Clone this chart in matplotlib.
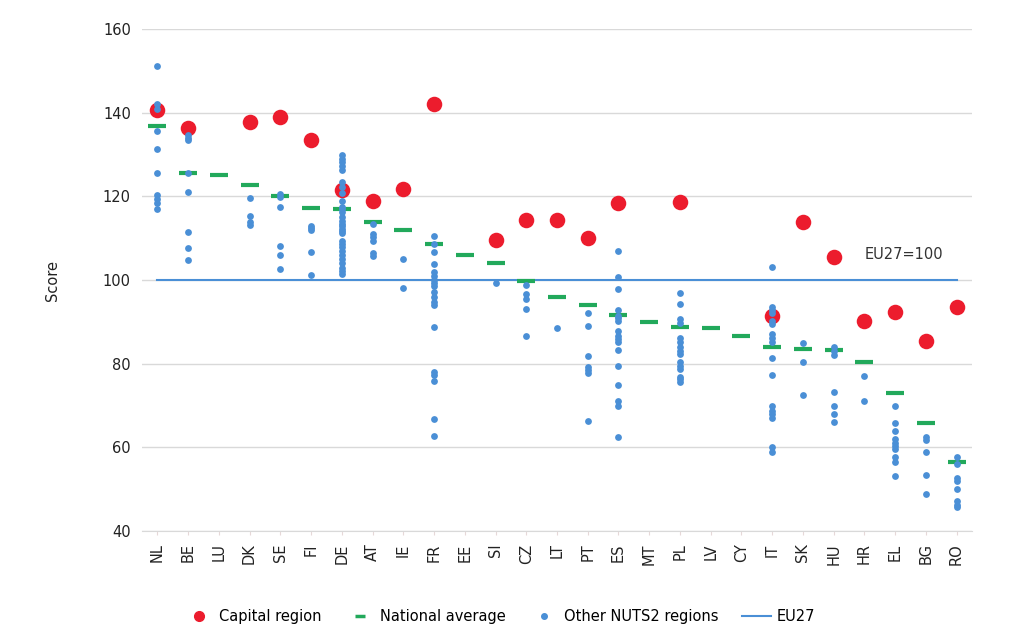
import numpy as np
import matplotlib
matplotlib.use("Agg")
import matplotlib.pyplot as plt
from matplotlib.lines import Line2D

# country codes, in chart order
countries = ["NL", "BE", "LU", "DK", "SE", "FI", "DE", "AT", "IE", "FR", "EE", "SI", "CZ", "LT",
             "PT", "ES", "MT", "PL", "LV", "CY", "IT", "SK", "HU", "HR", "EL", "BG", "RO"]

# capital region score (nan = single-region country)
capital = [140.6, 136.3, np.nan, 137.7, 138.9, 133.4, 121.5, 118.9, 121.7, 142.0, np.nan, 109.5,
           114.3, 114.3, 110.0, 118.5, np.nan, 118.7, np.nan, np.nan, 91.5, 113.8, 105.4, 90.1,
           92.4, 85.4, 93.6]

# national average
national = [136.8, 125.6, 125.1, 122.8, 120.1, 117.3, 117.1, 113.9, 111.9, 108.7, 106.0, 104.2,
            99.7, 96.0, 94.0, 91.7, 89.9, 88.7, 88.5, 86.6, 84.0, 83.5, 83.3, 80.5, 73.0, 65.9,
            56.4]

# other NUTS2 regions, one list per country
others = [
    [151.1, 142.2, 140.8, 135.6, 131.4, 125.5, 120.4, 119.5, 118.5, 116.9],
    [134.6, 134.0, 133.6, 125.7, 121.1, 111.5, 107.6, 104.8],
    [],
    [119.7, 115.4, 113.8, 113.1],
    [120.5, 119.9, 117.5, 108.2, 106.0, 102.7],
    [113.0, 112.4, 111.9, 106.8, 101.3],
    [129.8, 129.0, 128.2, 127.3, 126.3, 123.5, 122.3, 120.9, 118.9, 117.5, 116.9, 116.2, 115.2,
     114.2, 113.5, 113.0, 112.3, 111.8, 111.2, 109.4, 108.6, 107.8, 107.0, 106.0, 105.0, 104.0,
     103.0, 102.2, 101.4],
    [113.5, 111.0, 110.2, 109.4, 106.4, 105.8],
    [105.0, 98.1],
    [110.6, 108.6, 106.6, 103.8, 102.0, 101.0, 100.1, 99.3, 98.5, 97.1, 96.0, 94.7, 94.1, 88.7,
     78.0, 77.2, 75.8, 66.8, 62.8],
    [],
    [99.3],
    [98.8, 96.7, 95.5, 93.1, 86.6],
    [88.5],
    [92.1, 89.0, 81.9, 79.2, 78.6, 77.8, 66.2],
    [107.0, 100.8, 97.9, 92.8, 91.5, 90.9, 90.1, 87.9, 86.7, 85.9, 85.1, 83.2, 79.5, 74.9, 71.2,
     70.0, 62.4],
    [],
    [96.8, 94.3, 90.6, 89.7, 86.1, 85.1, 84.1, 83.1, 82.3, 80.4, 79.5, 78.8, 76.9, 76.4, 75.6],
    [],
    [],
    [103.2, 93.6, 92.8, 92.1, 90.3, 89.5, 87.1, 86.2, 85.1, 81.3, 77.2, 70.0, 68.8, 68.0, 67.1,
     60.1, 58.9],
    [84.9, 80.4, 72.4],
    [83.9, 83.0, 82.2, 73.3, 69.8, 67.9, 66.0],
    [77.0, 71.0],
    [69.8, 65.9, 63.8, 62.1, 61.1, 60.3, 59.5, 57.7, 56.5, 53.2],
    [62.4, 61.8, 58.9, 53.3, 48.9],
    [57.8, 55.9, 52.7, 52.0, 50.1, 47.1, 46.3, 45.8],
]

eu27 = 100

RED = "#EC1C2D"
GREEN = "#22A95B"
BLUE = "#4A8FD6"

plt.rcParams['font.family'] = ['DejaVu Sans']
plt.rcParams['font.size'] = 10.5

fig = plt.figure(figsize=(10.24, 6.34), dpi=100)
ax = fig.add_axes([0.1387, 0.1625, 0.8105, 0.7915])

x = np.arange(len(countries))

# EU27 reference line
ax.plot([x[0], x[-1]], [eu27, eu27], color=BLUE, linewidth=1.5, zorder=2)

# capital regions
ax.scatter(x, capital, s=125, color=RED, zorder=3, linewidths=0)

# national averages
ax.scatter(x, national, marker="_", s=170, color=GREEN, linewidths=3, zorder=4)

# other regions
ox, oy = [], []
for i, vals in enumerate(others):
    ox += [i] * len(vals)
    oy += vals
ax.scatter(ox, oy, s=24, color=BLUE, zorder=5, linewidths=0)

ax.text(23, 106, "EU27=100", fontsize=10.5, color="#333333", va="center", ha="left")

ax.set_xlim(-0.5, len(countries) - 0.5)
ax.set_ylim(40, 160)
ax.set_yticks(range(40, 161, 20))
ax.set_xticks(x)
ax.set_xticklabels(countries, rotation=90)
ax.tick_params(axis="y", length=0, pad=8, labelcolor="#222222")
ax.tick_params(axis="x", length=3, color="#E6D8D8", pad=6, labelcolor="#222222")
ax.grid(axis="y", color="#D9D9D9", linewidth=1)
ax.set_axisbelow(True)
for s in ["top", "right", "left"]:
    ax.spines[s].set_visible(False)
ax.spines["bottom"].set_color("#D9D9D9")
ax.set_ylabel("Score", labelpad=31, color="#222222")

handles = [
    Line2D([], [], marker="o", linestyle="", color=RED, markersize=7),
    Line2D([], [], marker="_", linestyle="", color=GREEN, markersize=7, markeredgewidth=2.5),
    Line2D([], [], marker="o", linestyle="", color=BLUE, markersize=4),
    Line2D([], [], color=BLUE, linewidth=1.5),
]
labels = ["Capital region", "National average", "Other NUTS2 regions", "EU27"]
fig.legend(handles, labels, loc="center", bbox_to_anchor=(0.488, 0.028), ncol=4, frameon=False,
           handlelength=2, handletextpad=0.35, columnspacing=1.65, fontsize=10.5)

fig.savefig("out.png", dpi=100)
